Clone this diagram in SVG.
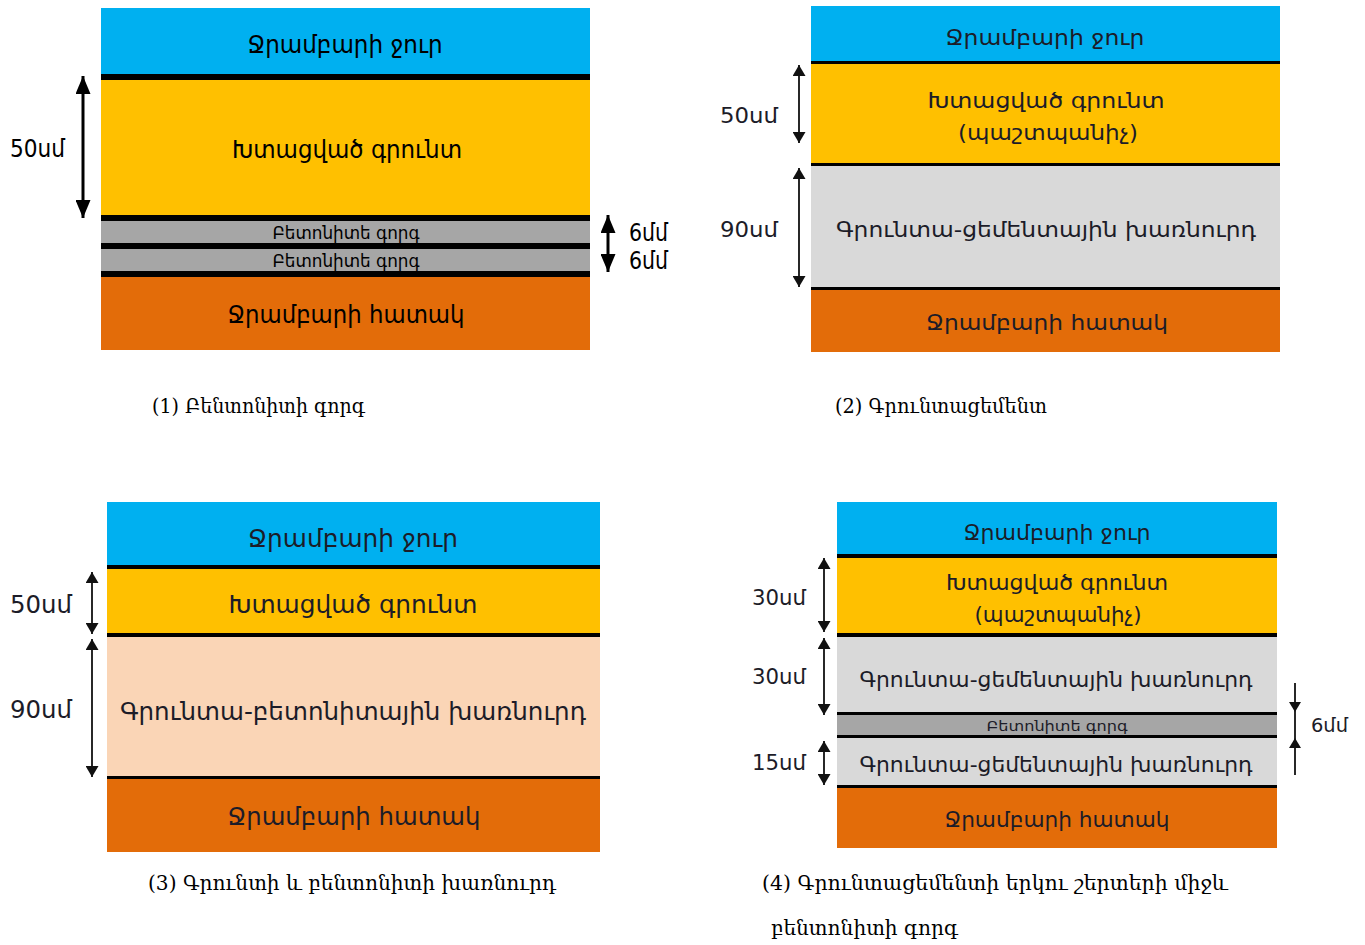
<svg xmlns="http://www.w3.org/2000/svg" width="1365" height="945" viewBox="0 0 1365 945">
<style>
.bg{fill:#ffffff}
.water{fill:#00B0F0}
.soil{fill:#FFC000}
.bent{fill:#A6A6A6}
.mix{fill:#D9D9D9}
.peach{fill:#FAD5B6}
.bed{fill:#E36C09}
.sep{fill:#000000}
.t1{font-family:"DejaVu Sans Condensed","DejaVu Sans",sans-serif;fill:#000;text-anchor:middle}
.t2{font-family:"DejaVu Sans","Noto Sans",sans-serif;fill:#1c1c28;text-anchor:middle}
.dim1{font-family:"DejaVu Sans Condensed","DejaVu Sans",sans-serif;fill:#000}
.dim2{font-family:"DejaVu Sans","Noto Sans",sans-serif;fill:#1c1c28}
.cap{font-family:"DejaVu Serif","Liberation Serif",serif;fill:#000;font-size:20px}
.a1{stroke:#000;stroke-width:3;fill:none;marker-start:url(#h1);marker-end:url(#h1)}
.a2{stroke:#111;stroke-width:1.8;fill:none;marker-start:url(#h2);marker-end:url(#h2)}
.ln{stroke:#111;stroke-width:1.8;fill:none}
</style>
<defs>
<marker id="h1" viewBox="0 0 10 10" refX="10" refY="5" markerUnits="userSpaceOnUse" markerWidth="18" markerHeight="15" orient="auto-start-reverse" preserveAspectRatio="none"><path d="M0,0 L10,5 L0,10 z" fill="#000"/></marker>
<marker id="h2" viewBox="0 0 10 10" refX="10" refY="5" markerUnits="userSpaceOnUse" markerWidth="11" markerHeight="13" orient="auto-start-reverse" preserveAspectRatio="none"><path d="M0,0 L10,5 L0,10 z" fill="#111"/></marker>
</defs>
<rect class="bg" x="0" y="0" width="1365" height="945"/>

<!-- Panel 1 -->
<g id="panel1">
  <g id="p1-water"><rect class="water" x="101" y="8" width="489" height="66"/><text class="t1" x="345" y="53" font-size="25" textLength="195" lengthAdjust="spacingAndGlyphs">Ջրամբարի ջուր</text></g>
  <rect class="sep" x="101" y="74" width="489" height="6"/>
  <g id="p1-soil"><rect class="soil" x="101" y="80" width="489" height="135"/><text class="t1" x="347" y="158" font-size="25" textLength="230" lengthAdjust="spacingAndGlyphs">Խտացված գրունտ</text></g>
  <rect class="sep" x="101" y="215" width="489" height="6"/>
  <g id="p1-mat1"><rect class="bent" x="101" y="221" width="489" height="22"/><text class="t1" x="346" y="239" font-size="17" textLength="147" lengthAdjust="spacingAndGlyphs">Բետոնիտե գորգ</text></g>
  <rect class="sep" x="101" y="243" width="489" height="6"/>
  <g id="p1-mat2"><rect class="bent" x="101" y="249" width="489" height="22"/><text class="t1" x="346" y="267" font-size="17" textLength="147" lengthAdjust="spacingAndGlyphs">Բետոնիտե գորգ</text></g>
  <rect class="sep" x="101" y="271" width="489" height="6"/>
  <g id="p1-bed"><rect class="bed" x="101" y="277" width="489" height="73"/><text class="t1" x="346" y="323" font-size="25" textLength="237" lengthAdjust="spacingAndGlyphs">Ջրամբարի հատակ</text></g>
  <text class="dim1" x="10" y="157" font-size="24" textLength="55" lengthAdjust="spacingAndGlyphs">50սմ</text>
  <text class="dim1" x="629" y="241" font-size="24" textLength="39" lengthAdjust="spacingAndGlyphs">6մմ</text>
  <text class="dim1" x="629" y="269" font-size="24" textLength="39" lengthAdjust="spacingAndGlyphs">6մմ</text>
  <text class="cap" x="152" y="413" textLength="213" lengthAdjust="spacingAndGlyphs">(1) Բենտոնիտի գորգ</text>
</g>

<!-- Panel 2 -->
<g id="panel2">
  <g id="p2-water"><rect class="water" x="811" y="6" width="469" height="55"/><text class="t2" x="1045" y="45" font-size="22" textLength="199" lengthAdjust="spacingAndGlyphs">Ջրամբարի ջուր</text></g>
  <rect class="sep" x="811" y="61" width="469" height="3"/>
  <g id="p2-soil"><rect class="soil" x="811" y="64" width="469" height="99"/><text class="t2" x="1046" y="108" font-size="22" textLength="237" lengthAdjust="spacingAndGlyphs">Խտացված գրունտ</text><text class="t2" x="1048" y="140" font-size="22" textLength="180" lengthAdjust="spacingAndGlyphs">(պաշտպանիչ)</text></g>
  <rect class="sep" x="811" y="163" width="469" height="3"/>
  <g id="p2-mix"><rect class="mix" x="811" y="166" width="469" height="121"/><text class="t2" x="1046" y="237" font-size="22" textLength="420" lengthAdjust="spacingAndGlyphs">Գրունտա-ցեմենտային խառնուրդ</text></g>
  <rect class="sep" x="811" y="287" width="469" height="3"/>
  <g id="p2-bed"><rect class="bed" x="811" y="290" width="469" height="62"/><text class="t2" x="1047" y="330" font-size="22" textLength="242" lengthAdjust="spacingAndGlyphs">Ջրամբարի հատակ</text></g>
  <text class="dim2" x="720" y="123" font-size="22" textLength="58" lengthAdjust="spacingAndGlyphs">50սմ</text>
  <text class="dim2" x="720" y="237" font-size="22" textLength="58" lengthAdjust="spacingAndGlyphs">90սմ</text>
  <text class="cap" x="835" y="413" textLength="212" lengthAdjust="spacingAndGlyphs">(2) Գրունտացեմենտ</text>
</g>

<!-- Panel 3 -->
<g id="panel3">
  <g id="p3-water"><rect class="water" x="107" y="502" width="493" height="63"/><text class="t2" x="353" y="547" font-size="25" textLength="210" lengthAdjust="spacingAndGlyphs">Ջրամբարի ջուր</text></g>
  <rect class="sep" x="107" y="565" width="493" height="4"/>
  <g id="p3-soil"><rect class="soil" x="107" y="569" width="493" height="64"/><text class="t2" x="353" y="613" font-size="25" textLength="249" lengthAdjust="spacingAndGlyphs">Խտացված գրունտ</text></g>
  <rect class="sep" x="107" y="633" width="493" height="4"/>
  <g id="p3-mix"><rect class="peach" x="107" y="637" width="493" height="139"/><text class="t2" x="353" y="720" font-size="25" textLength="466" lengthAdjust="spacingAndGlyphs">Գրունտա-բետոնիտային խառնուրդ</text></g>
  <rect class="sep" x="107" y="776" width="493" height="3"/>
  <g id="p3-bed"><rect class="bed" x="107" y="779" width="493" height="73"/><text class="t2" x="354" y="825" font-size="25" textLength="253" lengthAdjust="spacingAndGlyphs">Ջրամբարի հատակ</text></g>
  <text class="dim2" x="10" y="613" font-size="25" textLength="62" lengthAdjust="spacingAndGlyphs">50սմ</text>
  <text class="dim2" x="10" y="718" font-size="25" textLength="62" lengthAdjust="spacingAndGlyphs">90սմ</text>
  <text class="cap" x="148" y="890" textLength="408" lengthAdjust="spacingAndGlyphs">(3) Գրունտի և բենտոնիտի խառնուրդ</text>
</g>

<!-- Panel 4 -->
<g id="panel4">
  <g id="p4-water"><rect class="water" x="837" y="502" width="440" height="52"/><text class="t2" x="1057" y="540" font-size="21" textLength="187" lengthAdjust="spacingAndGlyphs">Ջրամբարի ջուր</text></g>
  <rect class="sep" x="837" y="554" width="440" height="4"/>
  <g id="p4-soil"><rect class="soil" x="837" y="558" width="440" height="75"/><text class="t2" x="1057" y="590" font-size="21" textLength="222" lengthAdjust="spacingAndGlyphs">Խտացված գրունտ</text><text class="t2" x="1058" y="622" font-size="21" textLength="167" lengthAdjust="spacingAndGlyphs">(պաշտպանիչ)</text></g>
  <rect class="sep" x="837" y="633" width="440" height="4"/>
  <g id="p4-mix1"><rect class="mix" x="837" y="637" width="440" height="75"/><text class="t2" x="1056" y="687" font-size="21" textLength="393" lengthAdjust="spacingAndGlyphs">Գրունտա-ցեմենտային խառնուրդ</text></g>
  <rect class="sep" x="837" y="712" width="440" height="3"/>
  <g id="p4-mat"><rect class="bent" x="837" y="715" width="440" height="20"/><text class="t2" x="1057" y="731" font-size="14" textLength="141" lengthAdjust="spacingAndGlyphs">Բետոնիտե գորգ</text></g>
  <rect class="sep" x="837" y="735" width="440" height="3"/>
  <g id="p4-mix2"><rect class="mix" x="837" y="738" width="440" height="47"/><text class="t2" x="1056" y="772" font-size="21" textLength="393" lengthAdjust="spacingAndGlyphs">Գրունտա-ցեմենտային խառնուրդ</text></g>
  <rect class="sep" x="837" y="785" width="440" height="3"/>
  <g id="p4-bed"><rect class="bed" x="837" y="788" width="440" height="60"/><text class="t2" x="1057" y="827" font-size="21" textLength="225" lengthAdjust="spacingAndGlyphs">Ջրամբարի հատակ</text></g>
  <text class="dim2" x="752" y="605" font-size="21" textLength="54" lengthAdjust="spacingAndGlyphs">30սմ</text>
  <text class="dim2" x="752" y="684" font-size="21" textLength="54" lengthAdjust="spacingAndGlyphs">30սմ</text>
  <text class="dim2" x="752" y="770" font-size="21" textLength="54" lengthAdjust="spacingAndGlyphs">15սմ</text>
  <text class="dim2" x="1311" y="732" font-size="20" textLength="37" lengthAdjust="spacingAndGlyphs">6մմ</text>
  <text class="cap" x="762" y="890" textLength="466" lengthAdjust="spacingAndGlyphs">(4) Գրունտացեմենտի երկու շերտերի միջև</text>
  <text class="cap" x="771" y="935" textLength="187" lengthAdjust="spacingAndGlyphs">բենտոնիտի գորգ</text>
</g>

<!-- Connectors (dimension arrows) -->
<g id="connectors">
  <line class="a1" x1="83" y1="76" x2="83" y2="218"/>
  <line class="a1" x1="608" y1="215" x2="608" y2="272"/>
  <line class="a2" x1="799" y1="65" x2="799" y2="143"/>
  <line class="a2" x1="799" y1="168" x2="799" y2="287"/>
  <line class="a2" x1="92" y1="572" x2="92" y2="634"/>
  <line class="a2" x1="92" y1="639" x2="92" y2="777"/>
  <line class="a2" x1="824" y1="558" x2="824" y2="632"/>
  <line class="a2" x1="824" y1="638" x2="824" y2="715"/>
  <line class="a2" x1="824" y1="741" x2="824" y2="785"/>
  <line class="ln" x1="1295" y1="683" x2="1295" y2="775"/>
  <path d="M1289,702 L1301,702 L1295,712 z" fill="#111"/>
  <path d="M1289,748 L1301,748 L1295,738 z" fill="#111"/>
</g>
</svg>
